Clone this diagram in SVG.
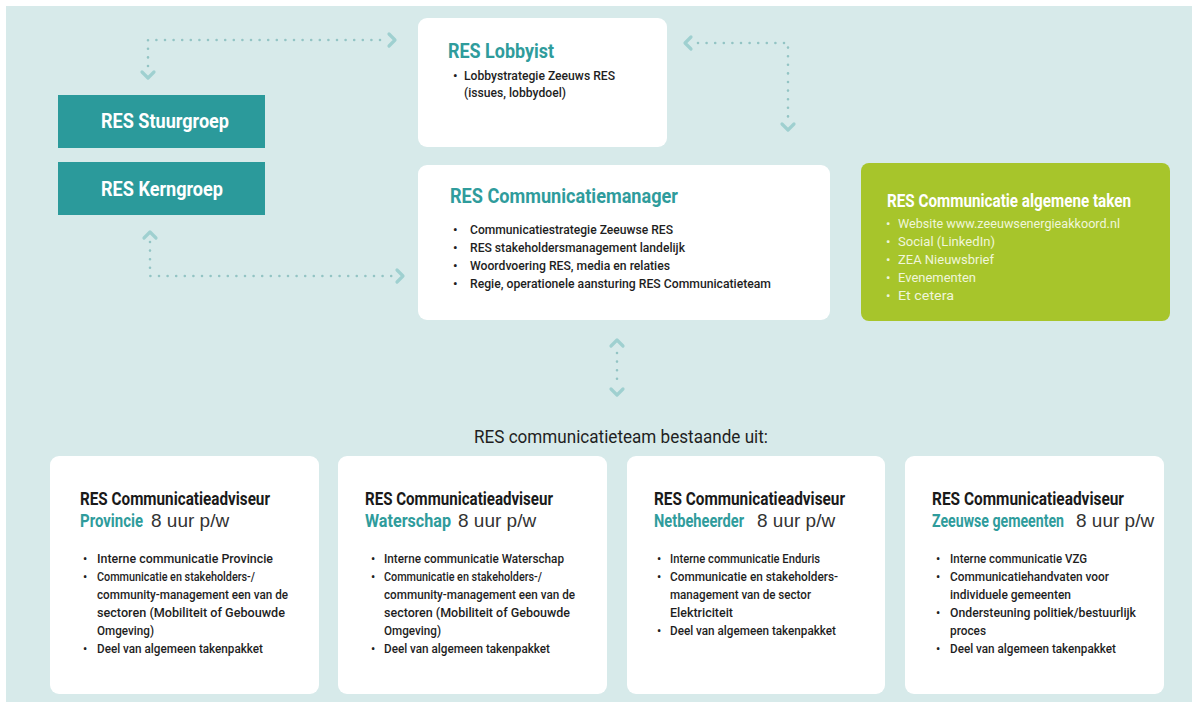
<svg xmlns="http://www.w3.org/2000/svg" width="1192" height="702" viewBox="0 0 1192 702">
<defs>
<style>
.bg{fill:#d7eaea}
.dark{fill:#2b9a9b}
.white{fill:#ffffff}
.green{fill:#a7c52b}
text{font-family:Roboto,"Liberation Sans",sans-serif}
.wt{fill:#ffffff;font-weight:bold;font-size:21px}
.tt{fill:#2f9c9c;font-weight:bold}
.bl{fill:#1e1e1e;font-size:13px;font-weight:500}
.cb{fill:#1e1e1e;font-size:12px;font-weight:500}
.gb{fill:#f0f6da;font-size:13px}
.ct{fill:#1a1a1a;font-weight:bold;font-size:18px}
.hr{fill:#333;font-family:"Liberation Sans",Arial,sans-serif;font-size:19px}
.dots{fill:none;stroke:#93c4c4;stroke-width:2.6;stroke-linecap:round;stroke-dasharray:0 8.6}
.chev{fill:none;stroke:#9fd0d0;stroke-width:3.2;stroke-linecap:round;stroke-linejoin:round}
</style>
</defs>
<rect x="0" y="0" width="1192" height="702" fill="#ffffff"/>
<rect class="bg" x="6" y="6" width="1186" height="696"/>

<g id="connectors">
<path class="dots" d="M148 66 V40 H382"/>
<path class="chev" d="M142 72 L148 78 L154 72"/>
<path class="chev" d="M389 34 L395 40 L389 46"/>
<path class="dots" d="M150 242 V276 H392"/>
<path class="chev" d="M144 238 L150 232 L156 238"/>
<path class="chev" d="M397 270 L403 276 L397 282"/>
<path class="dots" d="M698 43 H788 V118"/>
<path class="chev" d="M691 37 L685 43 L691 49"/>
<path class="chev" d="M782 124 L788 130 L794 124"/>
<path class="dots" d="M617 353 V385"/>
<path class="chev" d="M611 346 L617 340 L623 346"/>
<path class="chev" d="M611 389 L617 395 L623 389"/>
</g>

<g id="stuurgroep">
<rect class="dark" x="58" y="95" width="207" height="53"/>
<text class="wt" x="101" y="128" textLength="128" lengthAdjust="spacingAndGlyphs">RES Stuurgroep</text>
</g>
<g id="kerngroep">
<rect class="dark" x="58" y="162" width="207" height="53"/>
<text class="wt" x="101" y="196" textLength="122" lengthAdjust="spacingAndGlyphs">RES Kerngroep</text>
</g>

<g id="lobbyist">
<rect class="white" x="418" y="18" width="249" height="129" rx="9"/>
<text class="tt" x="448" y="58" font-size="21" textLength="106" lengthAdjust="spacingAndGlyphs">RES Lobbyist</text>
<text class="bl" x="453" y="80">•</text>
<text class="bl" x="464" y="80" textLength="151" lengthAdjust="spacingAndGlyphs">Lobbystrategie Zeeuws RES</text>
<text class="bl" x="464" y="97" textLength="102" lengthAdjust="spacingAndGlyphs">(issues, lobbydoel)</text>
</g>

<g id="manager">
<rect class="white" x="418" y="165" width="412" height="155" rx="9"/>
<text class="tt" x="450" y="203" font-size="21" textLength="228" lengthAdjust="spacingAndGlyphs">RES Communicatiemanager</text>
<text class="bl" x="453" y="234">•</text>
<text class="bl" x="470" y="234" textLength="203" lengthAdjust="spacingAndGlyphs">Communicatiestrategie Zeeuwse RES</text>
<text class="bl" x="453" y="252">•</text>
<text class="bl" x="470" y="252" textLength="215" lengthAdjust="spacingAndGlyphs">RES stakeholdersmanagement landelijk</text>
<text class="bl" x="453" y="270">•</text>
<text class="bl" x="470" y="270" textLength="200" lengthAdjust="spacingAndGlyphs">Woordvoering RES, media en relaties</text>
<text class="bl" x="453" y="288">•</text>
<text class="bl" x="470" y="288" textLength="301" lengthAdjust="spacingAndGlyphs">Regie, operationele aansturing RES Communicatieteam</text>
</g>

<g id="algemeen">
<rect class="green" x="861" y="163" width="309" height="158" rx="8"/>
<text x="887" y="207" fill="#ffffff" font-weight="bold" font-size="18" textLength="244" lengthAdjust="spacingAndGlyphs">RES Communicatie algemene taken</text>
<text class="gb" x="886" y="228">•</text>
<text class="gb" x="898" y="228" textLength="222" lengthAdjust="spacingAndGlyphs">Website www.zeeuwsenergieakkoord.nl</text>
<text class="gb" x="886" y="246">•</text>
<text class="gb" x="898" y="246" textLength="97" lengthAdjust="spacingAndGlyphs">Social (LinkedIn)</text>
<text class="gb" x="886" y="264">•</text>
<text class="gb" x="898" y="264" textLength="96" lengthAdjust="spacingAndGlyphs">ZEA Nieuwsbrief</text>
<text class="gb" x="886" y="282">•</text>
<text class="gb" x="898" y="282" textLength="78" lengthAdjust="spacingAndGlyphs">Evenementen</text>
<text class="gb" x="886" y="300">•</text>
<text class="gb" x="898" y="300" textLength="56" lengthAdjust="spacingAndGlyphs">Et cetera</text>
</g>

<g id="team-label">
<text x="474" y="443" fill="#1f1f1f" font-size="18" textLength="294" lengthAdjust="spacingAndGlyphs">RES communicatieteam bestaande uit:</text>
</g>

<g id="provincie">
<rect class="white" x="50" y="456" width="269" height="238" rx="9"/>
<text class="ct" x="80" y="505" textLength="190" lengthAdjust="spacingAndGlyphs">RES Communicatieadviseur</text>
<text class="tt" transform="translate(80 527) scale(0.8 1)" font-size="18" textLength="78.75" lengthAdjust="spacingAndGlyphs">Provincie</text>
<text class="hr" x="151" y="527">8 uur p/w</text>
<text class="cb" x="83" y="563">•</text>
<text class="cb" x="97" y="563" textLength="176" lengthAdjust="spacingAndGlyphs">Interne communicatie Provincie</text>
<text class="cb" x="83" y="581">•</text>
<text class="cb" x="97" y="581" textLength="158" lengthAdjust="spacingAndGlyphs">Communicatie en stakeholders-/</text>
<text class="cb" x="97" y="599" textLength="191" lengthAdjust="spacingAndGlyphs">community-management een van de</text>
<text class="cb" x="97" y="617" textLength="188" lengthAdjust="spacingAndGlyphs">sectoren (Mobiliteit of Gebouwde</text>
<text class="cb" x="97" y="635" textLength="57" lengthAdjust="spacingAndGlyphs">Omgeving)</text>
<text class="cb" x="83" y="653">•</text>
<text class="cb" x="97" y="653" textLength="166" lengthAdjust="spacingAndGlyphs">Deel van algemeen takenpakket</text>
</g>

<g id="waterschap">
<rect class="white" x="338" y="456" width="269" height="238" rx="9"/>
<text class="ct" x="365" y="505" textLength="188" lengthAdjust="spacingAndGlyphs">RES Communicatieadviseur</text>
<text class="tt" transform="translate(365 527) scale(0.8 1)" font-size="18" textLength="107.5" lengthAdjust="spacingAndGlyphs">Waterschap</text>
<text class="hr" x="458" y="527">8 uur p/w</text>
<text class="cb" x="371" y="563">•</text>
<text class="cb" x="384" y="563" textLength="180" lengthAdjust="spacingAndGlyphs">Interne communicatie Waterschap</text>
<text class="cb" x="371" y="581">•</text>
<text class="cb" x="384" y="581" textLength="158" lengthAdjust="spacingAndGlyphs">Communicatie en stakeholders-/</text>
<text class="cb" x="384" y="599" textLength="191" lengthAdjust="spacingAndGlyphs">community-management een van de</text>
<text class="cb" x="384" y="617" textLength="186" lengthAdjust="spacingAndGlyphs">sectoren (Mobiliteit of Gebouwde</text>
<text class="cb" x="384" y="635" textLength="57" lengthAdjust="spacingAndGlyphs">Omgeving)</text>
<text class="cb" x="371" y="653">•</text>
<text class="cb" x="384" y="653" textLength="166" lengthAdjust="spacingAndGlyphs">Deel van algemeen takenpakket</text>
</g>

<g id="netbeheerder">
<rect class="white" x="627" y="456" width="258" height="238" rx="9"/>
<text class="ct" x="654" y="505" textLength="191" lengthAdjust="spacingAndGlyphs">RES Communicatieadviseur</text>
<text class="tt" transform="translate(654 527) scale(0.8 1)" font-size="18" textLength="112.5" lengthAdjust="spacingAndGlyphs">Netbeheerder</text>
<text class="hr" x="757" y="527">8 uur p/w</text>
<text class="cb" x="657" y="563">•</text>
<text class="cb" x="670" y="563" textLength="150" lengthAdjust="spacingAndGlyphs">Interne communicatie Enduris</text>
<text class="cb" x="657" y="581">•</text>
<text class="cb" x="670" y="581" textLength="168" lengthAdjust="spacingAndGlyphs">Communicatie en stakeholders-</text>
<text class="cb" x="670" y="599" textLength="141" lengthAdjust="spacingAndGlyphs">management van de sector</text>
<text class="cb" x="670" y="617" textLength="63" lengthAdjust="spacingAndGlyphs">Elektriciteit</text>
<text class="cb" x="657" y="635">•</text>
<text class="cb" x="670" y="635" textLength="166" lengthAdjust="spacingAndGlyphs">Deel van algemeen takenpakket</text>
</g>

<g id="gemeenten">
<rect class="white" x="905" y="456" width="259" height="238" rx="9"/>
<text class="ct" x="932" y="505" textLength="192" lengthAdjust="spacingAndGlyphs">RES Communicatieadviseur</text>
<text class="tt" transform="translate(932 527) scale(0.8 1)" font-size="18" textLength="165" lengthAdjust="spacingAndGlyphs">Zeeuwse gemeenten</text>
<text class="hr" x="1076" y="527">8 uur p/w</text>
<text class="cb" x="936" y="563">•</text>
<text class="cb" x="950" y="563" textLength="137" lengthAdjust="spacingAndGlyphs">Interne communicatie VZG</text>
<text class="cb" x="936" y="581">•</text>
<text class="cb" x="950" y="581" textLength="159" lengthAdjust="spacingAndGlyphs">Communicatiehandvaten voor</text>
<text class="cb" x="950" y="599" textLength="121" lengthAdjust="spacingAndGlyphs">individuele gemeenten</text>
<text class="cb" x="936" y="617">•</text>
<text class="cb" x="950" y="617" textLength="186" lengthAdjust="spacingAndGlyphs">Ondersteuning politiek/bestuurlijk</text>
<text class="cb" x="950" y="635" textLength="36" lengthAdjust="spacingAndGlyphs">proces</text>
<text class="cb" x="936" y="653">•</text>
<text class="cb" x="950" y="653" textLength="166" lengthAdjust="spacingAndGlyphs">Deel van algemeen takenpakket</text>
</g>
</svg>
